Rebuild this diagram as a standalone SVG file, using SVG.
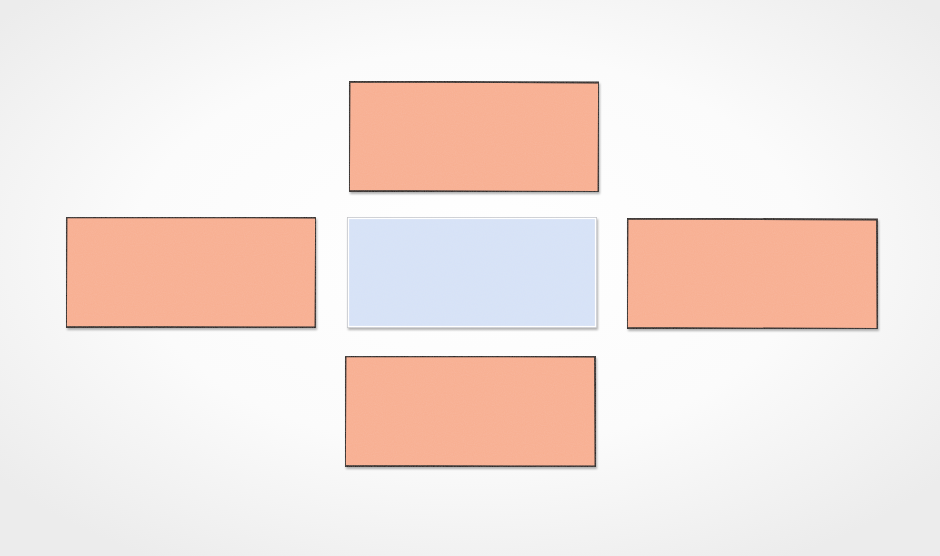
<svg xmlns="http://www.w3.org/2000/svg" width="940" height="556" viewBox="0 0 940 556">
  <defs>
    <radialGradient id="bg" cx="50%" cy="45%" r="65%">
      <stop offset="0" stop-color="#ffffff"/>
      <stop offset="0.55" stop-color="#fbfbfb"/>
      <stop offset="1" stop-color="#ececec"/>
    </radialGradient>
    <filter id="grain" x="0" y="0" width="100%" height="100%">
      <feTurbulence type="fractalNoise" baseFrequency="0.9" numOctaves="2" seed="3" result="n"/>
      <feColorMatrix in="n" type="matrix" values="0 0 0 0 1  0 0 0 0 0.85  0 0 0 0 0.8  0 0 0 0.1 0" result="w"/>
      <feComposite in="w" in2="SourceGraphic" operator="in" result="wm"/>
      <feMerge><feMergeNode in="SourceGraphic"/><feMergeNode in="wm"/></feMerge>
    </filter>
    <filter id="shadow" x="-5%" y="-5%" width="110%" height="115%">
      <feGaussianBlur in="SourceAlpha" stdDeviation="1.2"/>
      <feOffset dx="1" dy="1.5" result="b"/>
      <feComponentTransfer><feFuncA type="linear" slope="0.3"/></feComponentTransfer>
      <feMerge><feMergeNode/><feMergeNode in="SourceGraphic"/></feMerge>
    </filter>
  </defs>
  <style>
    .outer { fill: #f8ae90; stroke: #141414; stroke-width: 1.8; }
    .core { fill: #d5e2f8; stroke: #c4c4c4; stroke-width: 1.5; }
    .core-inner { fill: none; stroke: #ffffff; stroke-width: 1.2; }
  </style>
  <rect width="940" height="556" fill="url(#bg)"/>
  <g id="connectors"></g>
  <g id="node-top" filter="url(#shadow)">
    <path class="outer" filter="url(#grain)" d="M349.5,81.5 L599,82.5 L598.5,192 L349,191 Z"/>
  </g>
  <g id="node-center" filter="url(#shadow)">
    <rect class="core" filter="url(#grain)" x="347" y="217" width="250" height="111"/>
    <rect class="core-inner" x="348.5" y="218.5" width="247" height="108"/>
  </g>
  <g id="node-left" filter="url(#shadow)">
    <path class="outer" filter="url(#grain)" d="M66.5,217 L316,217.5 L315.5,327.5 L66,327 Z"/>
  </g>
  <g id="node-right" filter="url(#shadow)">
    <path class="outer" filter="url(#grain)" d="M627.5,218.5 L877,219.5 L877.5,329 L627,328 Z"/>
  </g>
  <g id="node-bottom" filter="url(#shadow)">
    <path class="outer" filter="url(#grain)" d="M345.5,356 L595,356.5 L595.5,466.5 L345,466 Z"/>
  </g>
</svg>
